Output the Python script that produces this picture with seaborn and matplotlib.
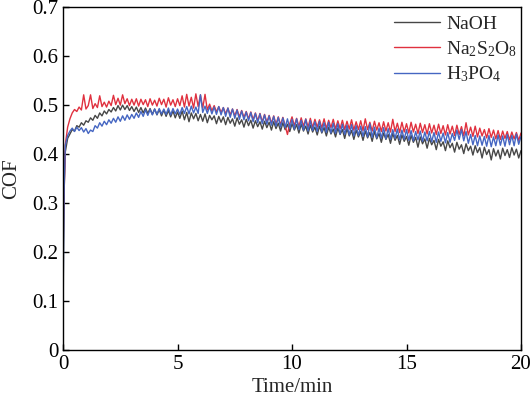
import numpy as np
import pandas as pd
import matplotlib
matplotlib.use("Agg")
import matplotlib.pyplot as plt
import seaborn as sns

# first few fast samples (run-in), then one value every 0.1 min
t_start = [0.0, 0.02, 0.05, 0.08]
naoh_start = [0.05, 0.20, 0.33, 0.38]
na2s2o8_start = [0.18, 0.27, 0.33, 0.38]
h3po4_start = [0.08, 0.22, 0.34, 0.39]

naoh = [
    0.405, 0.432, 0.441, 0.450, 0.447, 0.458, 0.455, 0.464, 0.459, 0.468,
    0.465, 0.474, 0.469, 0.479, 0.473, 0.484, 0.478, 0.488, 0.482, 0.491,
    0.486, 0.495, 0.488, 0.499, 0.490, 0.500, 0.491, 0.499, 0.489, 0.497,
    0.487, 0.496, 0.485, 0.495, 0.484, 0.494, 0.483, 0.493, 0.481, 0.492,
    0.480, 0.491, 0.478, 0.490, 0.477, 0.489, 0.476, 0.488, 0.474, 0.486,
    0.473, 0.488, 0.470, 0.485, 0.466, 0.484, 0.472, 0.483, 0.468, 0.481,
    0.467, 0.482, 0.464, 0.479, 0.470, 0.478, 0.462, 0.477, 0.465, 0.476,
    0.460, 0.475, 0.463, 0.472, 0.457, 0.474, 0.461, 0.470, 0.455, 0.471,
    0.458, 0.469, 0.453, 0.468, 0.456, 0.466, 0.451, 0.467, 0.454, 0.465,
    0.449, 0.466, 0.452, 0.463, 0.447, 0.464, 0.450, 0.461, 0.446, 0.462,
    0.449, 0.460, 0.443, 0.461, 0.447, 0.457, 0.441, 0.459, 0.445, 0.455,
    0.439, 0.457, 0.443, 0.454, 0.437, 0.455, 0.441, 0.451, 0.435, 0.453,
    0.440, 0.450, 0.432, 0.452, 0.437, 0.448, 0.430, 0.449, 0.435, 0.446,
    0.428, 0.447, 0.433, 0.444, 0.426, 0.446, 0.431, 0.442, 0.424, 0.443,
    0.430, 0.440, 0.422, 0.442, 0.428, 0.438, 0.420, 0.439, 0.426, 0.436,
    0.418, 0.438, 0.424, 0.434, 0.414, 0.435, 0.421, 0.431, 0.412, 0.432,
    0.419, 0.428, 0.409, 0.430, 0.416, 0.425, 0.407, 0.427, 0.413, 0.422,
    0.404, 0.424, 0.410, 0.419, 0.401, 0.421, 0.407, 0.416, 0.398, 0.417,
    0.403, 0.413, 0.392, 0.414, 0.399, 0.409, 0.388, 0.411, 0.396, 0.408,
    0.390, 0.412, 0.397, 0.409, 0.393, 0.413, 0.398, 0.410, 0.392, 0.407,
]

na2s2o8 = [
    0.420, 0.455, 0.472, 0.484, 0.491, 0.487, 0.496, 0.490, 0.521, 0.492,
    0.499, 0.521, 0.493, 0.503, 0.495, 0.519, 0.497, 0.506, 0.496, 0.508,
    0.499, 0.520, 0.501, 0.514, 0.500, 0.521, 0.503, 0.513, 0.499, 0.512,
    0.500, 0.513, 0.498, 0.512, 0.501, 0.511, 0.497, 0.513, 0.500, 0.510,
    0.498, 0.514, 0.501, 0.512, 0.496, 0.515, 0.500, 0.511, 0.497, 0.513,
    0.499, 0.519, 0.496, 0.522, 0.498, 0.516, 0.494, 0.523, 0.497, 0.521,
    0.494, 0.522, 0.490, 0.502, 0.488, 0.499, 0.486, 0.497, 0.485, 0.495,
    0.482, 0.494, 0.480, 0.492, 0.478, 0.491, 0.476, 0.489, 0.475, 0.487,
    0.472, 0.486, 0.470, 0.484, 0.468, 0.483, 0.466, 0.481, 0.465, 0.479,
    0.463, 0.478, 0.461, 0.476, 0.460, 0.475, 0.458, 0.440, 0.462, 0.476,
    0.458, 0.473, 0.456, 0.474, 0.457, 0.472, 0.455, 0.473, 0.454, 0.471,
    0.455, 0.470, 0.453, 0.472, 0.452, 0.469, 0.454, 0.471, 0.451, 0.468,
    0.452, 0.469, 0.450, 0.467, 0.451, 0.470, 0.449, 0.466, 0.450, 0.468,
    0.448, 0.472, 0.450, 0.465, 0.447, 0.467, 0.449, 0.464, 0.446, 0.466,
    0.447, 0.464, 0.445, 0.471, 0.446, 0.463, 0.444, 0.465, 0.445, 0.462,
    0.443, 0.465, 0.445, 0.461, 0.442, 0.463, 0.444, 0.460, 0.441, 0.462,
    0.443, 0.459, 0.440, 0.461, 0.442, 0.458, 0.439, 0.460, 0.441, 0.457,
    0.438, 0.459, 0.440, 0.456, 0.437, 0.464, 0.439, 0.455, 0.436, 0.457,
    0.435, 0.453, 0.437, 0.450, 0.433, 0.452, 0.434, 0.449, 0.431, 0.448,
    0.430, 0.447, 0.432, 0.446, 0.429, 0.445, 0.431, 0.444, 0.428, 0.443,
]

h3po4 = [
    0.418, 0.438, 0.447, 0.453, 0.446, 0.455, 0.448, 0.454, 0.445, 0.452,
    0.442, 0.449, 0.446, 0.458, 0.453, 0.464, 0.457, 0.467, 0.460, 0.470,
    0.463, 0.473, 0.465, 0.476, 0.467, 0.478, 0.469, 0.480, 0.471, 0.481,
    0.473, 0.484, 0.475, 0.487, 0.477, 0.490, 0.479, 0.491, 0.480, 0.492,
    0.481, 0.493, 0.482, 0.492, 0.481, 0.494, 0.480, 0.493, 0.482, 0.492,
    0.481, 0.495, 0.483, 0.497, 0.482, 0.498, 0.484, 0.496, 0.483, 0.521,
    0.485, 0.498, 0.483, 0.497, 0.482, 0.496, 0.481, 0.497, 0.480, 0.495,
    0.477, 0.494, 0.475, 0.492, 0.473, 0.490, 0.471, 0.488, 0.470, 0.486,
    0.468, 0.485, 0.466, 0.483, 0.464, 0.482, 0.462, 0.480, 0.461, 0.478,
    0.459, 0.477, 0.457, 0.475, 0.455, 0.474, 0.454, 0.472, 0.452, 0.471,
    0.451, 0.472, 0.450, 0.469, 0.449, 0.471, 0.447, 0.468, 0.448, 0.466,
    0.446, 0.467, 0.445, 0.464, 0.444, 0.465, 0.443, 0.463, 0.442, 0.462,
    0.441, 0.461, 0.440, 0.459, 0.439, 0.460, 0.437, 0.458, 0.438, 0.457,
    0.436, 0.456, 0.435, 0.462, 0.434, 0.455, 0.433, 0.453, 0.432, 0.454,
    0.431, 0.452, 0.430, 0.450, 0.432, 0.451, 0.429, 0.449, 0.430, 0.450,
    0.428, 0.448, 0.427, 0.446, 0.429, 0.447, 0.426, 0.445, 0.427, 0.446,
    0.425, 0.444, 0.424, 0.445, 0.426, 0.443, 0.423, 0.444, 0.424, 0.442,
    0.428, 0.449, 0.430, 0.450, 0.427, 0.446, 0.422, 0.440, 0.419, 0.438,
    0.417, 0.437, 0.418, 0.436, 0.416, 0.438, 0.415, 0.435, 0.417, 0.439,
    0.418, 0.437, 0.416, 0.440, 0.419, 0.438, 0.417, 0.441, 0.420, 0.436,
]

labels = ["NaOH", r"Na$_2$S$_2$O$_8$", r"H$_3$PO$_4$"]
colors = ["#474747", "#e0313f", "#4566c2"]

t_main = list(np.round(np.arange(1, len(naoh) + 1) * 0.1, 1))
frames = []
for lab, start, vals in zip(labels, [naoh_start, na2s2o8_start, h3po4_start], [naoh, na2s2o8, h3po4]):
    frames.append(pd.DataFrame({"t": t_start + t_main, "cof": start + vals, "sample": lab}))
df = pd.concat(frames, ignore_index=True)

sns.set_style("ticks")
plt.rcParams["font.family"] = ["Liberation Serif", "DejaVu Serif"]
plt.rcParams["mathtext.fontset"] = "custom"
plt.rcParams["mathtext.rm"] = "Liberation Serif"
plt.rcParams["mathtext.it"] = "Liberation Serif:italic"

fig, ax = plt.subplots(figsize=(5.3, 3.99), dpi=100)
fig.subplots_adjust(left=0.119, right=0.983, bottom=0.123, top=0.982)

sns.lineplot(data=df, x="t", y="cof", hue="sample", hue_order=labels,
             palette=colors, linewidth=1.0, estimator=None, sort=False, ax=ax)

ax.set_xlim(0, 20)
ax.set_ylim(0, 0.7)
ax.set_xticks([0, 5, 10, 15, 20])
ax.set_xticklabels(["0", "5", "10", "15", "20"])
ax.set_yticks([0, 0.1, 0.2, 0.3, 0.4, 0.5, 0.6, 0.7])
ax.set_yticklabels(["0", "0.1", "0.2", "0.3", "0.4", "0.5", "0.6", "0.7"])
ax.tick_params(direction="in", length=4, width=1, labelsize=15, colors="black")
for sp in ax.spines.values():
    sp.set_visible(True)
    sp.set_linewidth(1.0)
    sp.set_color("black")

ax.set_xlabel("Time/min", fontsize=15, labelpad=3)
ax.set_ylabel("COF", fontsize=15, labelpad=8)

handles, labs = ax.get_legend_handles_labels()
ax.legend(handles, labs, loc="upper right", bbox_to_anchor=(1.017, 1.01), frameon=False,
          fontsize=14, handlelength=2.4, handletextpad=0.3, labelspacing=0.3,
          borderaxespad=0.2)

plt.savefig("out.png", dpi=100)
